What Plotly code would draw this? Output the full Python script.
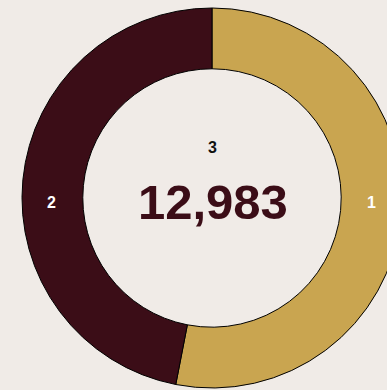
import plotly.graph_objects as go

# Two-part share shown as a donut, total printed in the middle
labels = ["1", "2"]
values = [6888, 6095]
colors = ["#C9A550", "#3B0D17"]
title_label = "3"
total = sum(values)

W, H = 402, 390
FONT = "Liberation Sans, Arial, sans-serif"

fig = go.Figure(
    go.Pie(
        labels=labels,
        values=values,
        textinfo="none",
        hole=0.68,
        sort=False,
        direction="clockwise",
        rotation=0,
        marker=dict(colors=colors, line=dict(color="#000000", width=1)),
        domain=dict(x=[22 / W, 1], y=[2 / H, 382 / H]),
        hoverinfo="label+value+percent",
        showlegend=False,
    )
)


def centered_text(text, x_px, y_px, size, color):
    fig.add_annotation(
        text=text,
        x=x_px / W, y=(H - y_px) / H, xref="paper", yref="paper",
        xanchor="center", yanchor="middle",
        showarrow=False,
        font=dict(family=FONT, size=size, color=color),
    )


# slice labels, set on the horizontal line through the ring
label_x = {"1": 371, "2": 51}
for lab in labels:
    centered_text(f"<b>{lab}</b>", label_x[lab], 203, 16, "#FFFFFF")

centered_text(f"<b>{title_label}</b>", 212, 147, 16, "#111111")
centered_text(f"<b>{total:,}</b>", 213, 202, 49, "#3B0D17")

fig.update_layout(
    width=W,
    height=H,
    margin=dict(l=0, r=0, t=0, b=0),
    paper_bgcolor="#F0EBE7",
    plot_bgcolor="#F0EBE7",
)

fig.write_html("out.html")
